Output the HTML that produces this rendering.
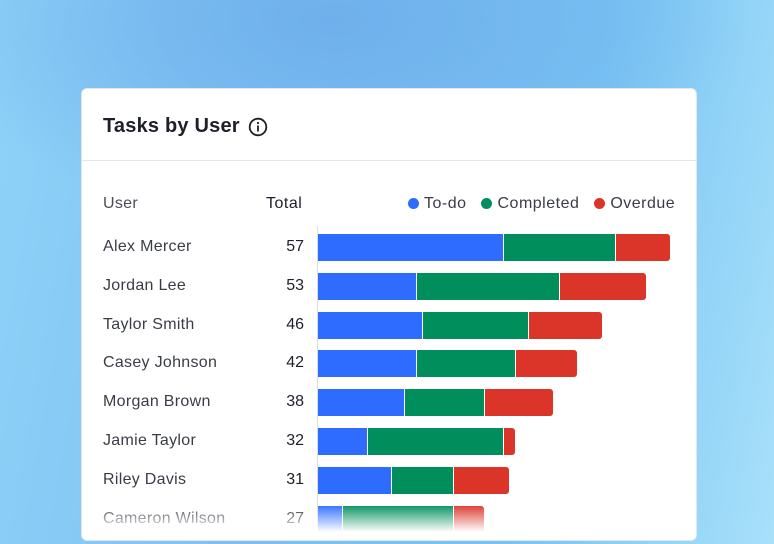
<!DOCTYPE html>
<html><head><meta charset="utf-8"><style>
*{margin:0;padding:0;box-sizing:border-box}
body{width:774px;height:544px;overflow:hidden;position:relative;font-family:"Liberation Sans",sans-serif;
background:radial-gradient(ellipse 420px 200px at 330px 20px,#6fb0ec 0%,rgba(111,176,236,0) 100%),linear-gradient(100deg,#8fd2f8 0%,#7cc0f2 40%,#78c4f4 70%,#a8e0fa 100%);}
#card{position:absolute;left:81px;top:88px;width:616px;height:453px;background:#fff;border-radius:6px;border:1px solid #e3e6ee;overflow:hidden}
.t{position:absolute;white-space:nowrap}
#fade{position:absolute;left:0;top:415px;width:616px;height:40px;background:linear-gradient(rgba(255,255,255,0),#fff 70%)}
.dot{display:inline-block;width:11px;height:11px;border-radius:50%;vertical-align:-1px;margin-right:5px}
</style></head><body>
<div id="card">
 <div class="t" style="left:21px;top:26px;font-size:20px;font-weight:bold;color:#1e2029;letter-spacing:0.2px">Tasks by User</div>
 <svg style="position:absolute;left:166px;top:28px" width="20" height="20" viewBox="0 0 20 20"><circle cx="10" cy="10" r="8.3" fill="none" stroke="#1e2029" stroke-width="1.8"/><rect x="9.1" y="8.5" width="1.8" height="6" fill="#1e2029"/><circle cx="10" cy="6" r="1.1" fill="#1e2029"/></svg>
 <div style="position:absolute;left:0;top:71px;width:616px;height:1px;background:#e3e4ef"></div>
 <div class="t" style="left:21px;top:106px;font-size:16px;color:#4a4d57;letter-spacing:0.3px">User</div>
 <div class="t" style="left:184px;top:106px;font-size:16px;color:#1e2029;letter-spacing:0.5px">Total</div>
 <div class="t" style="left:326px;top:106px;font-size:16px;color:#3a3d47;letter-spacing:0.5px">
  <span><span class="dot" style="background:#2d6cff"></span>To-do</span>
  <span style="margin-left:10px"><span class="dot" style="background:#008f5c"></span>Completed</span>
  <span style="margin-left:10px"><span class="dot" style="background:#db3529"></span>Overdue</span>
 </div>
 <div style="position:absolute;left:235px;top:137px;width:1px;height:300px;background:#dcdde3"></div>
 <div id="rows"></div>
 <div id="fade"></div>
</div>
<script>
const users=["Alex Mercer","Jordan Lee","Taylor Smith","Casey Johnson","Morgan Brown","Jamie Taylor","Riley Davis","Cameron Wilson"];
const todo=[30,16,17,16,14,8,12,4];
const completed=[18,23,17,16,13,22,10,18];
const overdue=[9,14,12,10,11,2,9,5];
const colors=["#2d6cff","#008f5c","#db3529"];
const x0=236, scale=6.2, rowY0=144, rowH=38.8, barH=27;
const xs=v=>v*scale;
const rows=document.getElementById('rows');
users.forEach((u,i)=>{
  const y=rowY0+i*rowH;
  const n=document.createElement('div');n.className='t';
  
  
  n.style.cssText=`left:21px;top:${y+5}px;font-size:16px;color:#3a3d47;letter-spacing:0.3px`;n.textContent=u;rows.appendChild(n);
  const tot=todo[i]+completed[i]+overdue[i];
  const t=document.createElement('div');t.className='t';
  
  
  t.style.cssText=`left:170px;width:52px;text-align:right;top:${y+5}px;font-size:16px;color:#1e2029`;t.textContent=tot;rows.appendChild(t);
  let x=x0;
  [todo[i],completed[i],overdue[i]].forEach((v,k)=>{
    const w=xs(v);
    const b=document.createElement('div');
    
    
    b.style.cssText=`position:absolute;left:${x}px;top:${y+1}px;width:${w-1}px;height:${barH}px;background:${colors[k]};border-radius:${k==2?'0 3px 3px 0':'0'}`;
    rows.appendChild(b);x+=w;
  });
});
</script>
</body></html>
